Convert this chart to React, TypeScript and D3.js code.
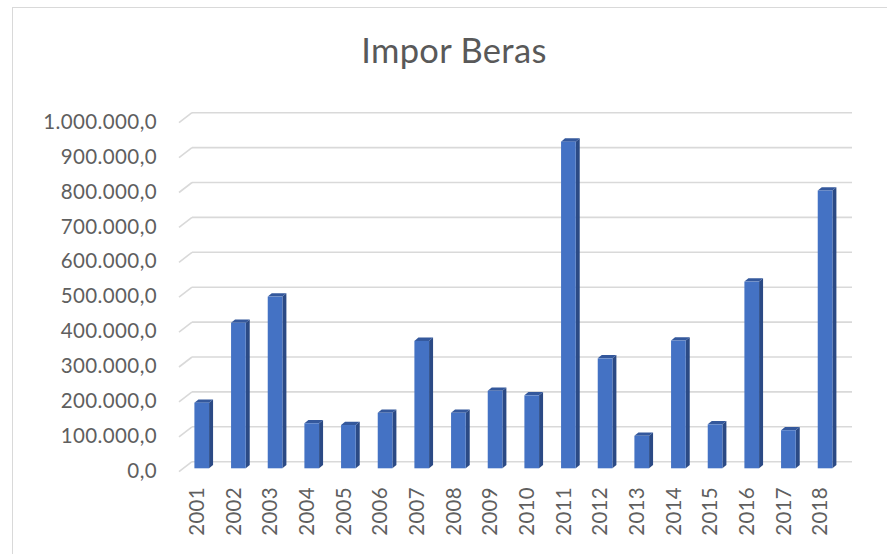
import React from "react";
import * as d3 from "d3";

const years = ["2001","2002","2003","2004","2005","2006","2007","2008","2009","2010","2011","2012","2013","2014","2015","2016","2017","2018"];
const imports = [188000, 417000, 492000, 129000, 124000, 159000, 365000, 159000, 222000, 209000, 936000, 315000, 93000, 366000, 126000, 535000, 109000, 796000];
const yTicks = [0, 100000, 200000, 300000, 400000, 500000, 600000, 700000, 800000, 900000, 1000000];
const title = "Impor Beras";

const W = 887, H = 554;
const FONT = "Lato, 'Open Sans', sans-serif";
// depth offsets
const floorDx = 13, floorDy = -10;
const barDx = 4, barDy = -3.3;
const backLeft = 192, backRight = 852;
const backBase = 461.7, backTop = 112.7;
const barShiftX = 4.4, barShiftY = 6.6; // bar front relative to back wall

const fmt = (v: number) => {
  const s = d3.format(",.1f")(v);
  return s.replace(/,/g, "#").replace(".", ",").replace(/#/g, ".");
};

export default function App() {
  const yBack = d3.scaleLinear().domain([0, 1000000]).range([backBase, backTop]);
  const yFront = (v: number) => yBack(v) + barShiftY;
  const x = d3.scaleBand<string>().domain(years)
    .range([backLeft - barShiftX * 2 + 0.2, backRight - barShiftX * 2 + 0.2])
    .paddingInner(0.6).paddingOuter(0.3);
  const xLab = d3.scaleBand<string>().domain(years)
    .range([backLeft - floorDx, backRight - floorDx]);
  const bw = x.bandwidth();
  const base = yFront(0);

  return (
    <svg width={W} height={H} style={{ position: "absolute", left: 0, top: 0, background: "#fff" }}>
      <rect x={12.5} y={7.5} width={900} height={600} fill="#fff" stroke="#d9d9d9" strokeWidth={1} />
      <text x={454} y={63} textAnchor="middle" fontFamily={FONT} fontSize={34.5} letterSpacing={0.3} fill="#595959">{title}</text>
      {yTicks.map((t) => (
        <g key={t}>
          <line x1={backLeft} x2={backRight} y1={yBack(t)} y2={yBack(t)} stroke="#d9d9d9" strokeWidth={1.6} />
          <line x1={backLeft - floorDx} y1={yBack(t) - floorDy} x2={backLeft} y2={yBack(t)} stroke="#d9d9d9" strokeWidth={1.6} />
          <text x={157} y={yBack(t) - floorDy + 1} textAnchor="end" dominantBaseline="middle"
            fontFamily={FONT} fontSize={20.5} letterSpacing={0.4} fill="#5f5f5f">{fmt(t)}</text>
        </g>
      ))}
      {years.map((yr, i) => {
        const x0 = x(yr)!;
        const top = yFront(imports[i]);
        return (
          <g key={yr}>
            <polygon points={`${x0 + bw},${top} ${x0 + bw + barDx},${top + barDy} ${x0 + bw + barDx},${base + barDy} ${x0 + bw},${base}`} fill="#2B4A85" />
            <polygon points={`${x0},${top} ${x0 + barDx},${top + barDy} ${x0 + bw + barDx},${top + barDy} ${x0 + bw},${top}`} fill="#34589C" />
            <rect x={x0} y={top} width={bw} height={base - top} fill="#4472C4" />
          </g>
        );
      })}
      {years.map((yr) => {
        const cx = xLab(yr)! + xLab.bandwidth() / 2 + 1.5;
        return (
          <text key={yr} transform={`translate(${cx},487) rotate(-90)`} textAnchor="end" dominantBaseline="middle"
            fontFamily={FONT} fontSize={20.5} letterSpacing={0.3} fill="#5f5f5f">{yr}</text>
        );
      })}
    </svg>
  );
}
